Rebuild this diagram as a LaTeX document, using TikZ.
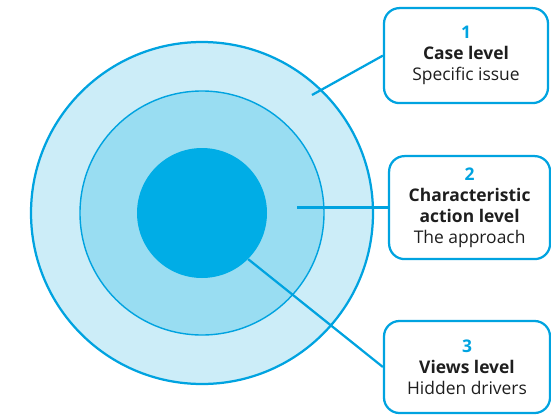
\documentclass[tikz,border=0pt]{standalone}
\usepackage{fontspec}
\setmainfont{Open Sans}
\usetikzlibrary{positioning}

\definecolor{ringblue}{RGB}{0,163,224}
\definecolor{corefill}{RGB}{0,173,230}
\definecolor{midfill}{RGB}{153,221,242}
\definecolor{outerfill}{RGB}{204,237,248}
\definecolor{textgrey}{RGB}{30,30,30}

\begin{document}
\begin{tikzpicture}[
        font=\fontsize{12.4}{14.8}\selectfont,
        ring/.style={
            circle,
            inner sep=0pt
        },
        levelbox/.style={
            draw=ringblue,
            line width=1.6pt,
            rounded corners=11pt,
            align=center,
            text=textgrey,
            inner sep=2pt
        },
        link/.style={draw=ringblue, line width=1.6pt}
    ]

    \useasboundingbox (0,0) rectangle (13.775,10.35);

    % the three levels, outside in
    \node[ring, fill=outerfill, draw=ringblue, line width=1.6pt,
          minimum size=8.55cm] (outer) at (5.05,5.025) {};
    \node[ring, fill=midfill, draw=ringblue, line width=1pt,
          minimum size=6.1cm] (middle) at (5.05,5.025) {};
    \node[ring, fill=corefill, minimum size=3.25cm] (inner) at (5.05,5.025) {};

    \node[levelbox, minimum width=4.1cm, minimum height=2.375cm] (case) at (11.65,8.96) {
        {\color{ringblue}\textbf{1}}\\
        \textbf{Case level}\\
        Specific issue
    };

    \node[levelbox, minimum width=4.025cm, minimum height=2.575cm] (action) at (11.74,5.16) {
        {\color{ringblue}\textbf{2}}\\
        \textbf{Characteristic}\\
        \textbf{action level}\\
        The approach
    };

    \node[levelbox, minimum width=4.15cm, minimum height=2.3cm] (views) at (11.675,1.175) {
        {\color{ringblue}\textbf{3}}\\
        \textbf{Views level}\\
        Hidden drivers
    };

    % start points of the leaders
    \coordinate (caseend) at (7.8,7.975);
    \coordinate (actionend) at (7.425,5.16);

    \draw[link] (caseend) -- (case.west);
    \draw[link] (actionend) -- (action.west);
    \draw[link] (inner.-45) -- (views.west);

\end{tikzpicture}
\end{document}
